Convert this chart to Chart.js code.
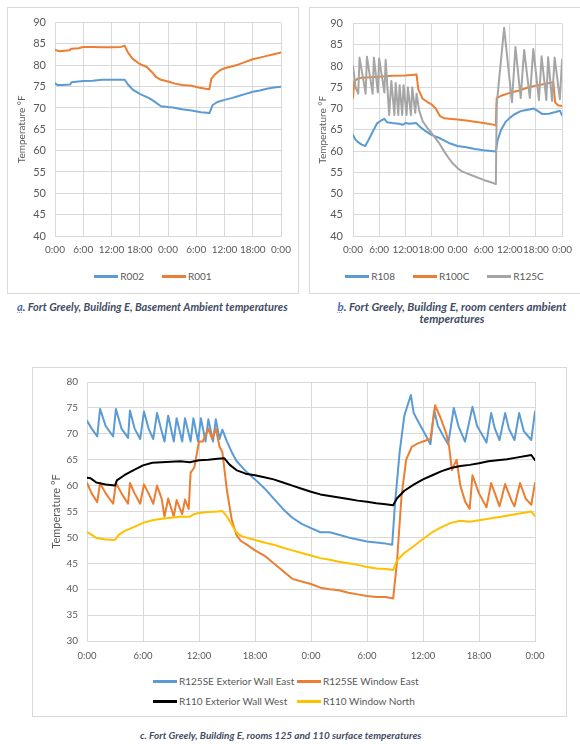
<!DOCTYPE html>
<html>
<head>
<meta charset="utf-8">
<script src="https://cdn.jsdelivr.net/npm/chart.js@4.4.1/dist/chart.umd.min.js"></script>
<style>
  body { margin: 0; width: 580px; height: 744px; background: #fff; position: relative; overflow: hidden; font-family: Lato, "Open Sans", sans-serif; }
  .frame { position: absolute; border: 1px solid #d9d9d9; box-sizing: border-box; }
  canvas { position: absolute; }
  .legend { position: absolute; font-size: 10px; color: #595959; white-space: nowrap; }
  .legend.row { display: flex; justify-content: center; gap: 18px; }
  .item { display: flex; align-items: center; }
  .legend.grid .item { position: absolute; }
  .swatch { display: inline-block; width: 24px; height: 3px; margin-right: 2px; }
  .caption { position: absolute; font-weight: bold; font-style: italic; color: #3f4d66; font-size: 11px; line-height: 12px; white-space: nowrap; }
  .caption .tag { color: #4a68b8; text-decoration: underline dotted #8fa0d6; }
</style>
</head>
<body>
<div class="frame" style="left:7px;top:7px;width:292px;height:287px"></div>
<div class="frame" style="left:309px;top:7px;width:290px;height:287px"></div>
<div class="frame" style="left:32px;top:367px;width:535px;height:350px"></div>

<canvas id="chartA" width="292" height="258" style="left:7px;top:7px"></canvas>
<canvas id="chartB" width="271" height="258" style="left:309px;top:7px"></canvas>
<canvas id="chartC" width="535" height="300" style="left:32px;top:367px"></canvas>

<div id="legendA" class="legend row" style="left:7px;top:270px;width:292px"></div>
<div id="legendB" class="legend row" style="left:309px;top:270px;width:271px"></div>
<div id="legendC" class="legend grid" style="left:0;top:675px;width:580px;height:40px"></div>

<div class="caption" style="left:17px;top:301px"><span class="tag">a</span>. Fort Greely, Building E, Basement Ambient temperatures</div>
<div class="caption" style="left:309px;top:301px;width:286px;text-align:center;font-size:11.5px"><span class="tag">b</span>. Fort Greely, Building E, room centers ambient<br>temperatures</div>
<div class="caption" style="left:140px;top:729px;font-size:10px">c. Fort Greely, Building E, rooms 125 and 110 surface temperatures</div>

<script>
// Time axis: hours since the first midnight, labelled every 6 hours
const hourTicks = [0, 6, 12, 18, 24, 30, 36, 42, 48];
const timeLabels = ['0:00', '6:00', '12:00', '18:00', '0:00', '6:00', '12:00', '18:00', '0:00'];

// --- a. Basement ambient temperatures (°F)
const r002Hours = [0, 0.5, 1.5, 3.2, 3.5, 5, 6, 8, 10, 12, 14.8, 15.5, 16.5, 18, 20, 21, 22.5, 24, 25, 27, 29, 31, 32.8, 33.5, 34.5, 36, 37.5, 39, 40.5, 42, 43.5, 45, 46.5, 48];
const r002Temps = [75.8, 75.4, 75.4, 75.5, 76.0, 76.2, 76.3, 76.4, 76.6, 76.6, 76.6, 75.5, 74.3, 73.3, 72.3, 71.6, 70.4, 70.2, 70.1, 69.7, 69.4, 69.0, 68.8, 70.7, 71.4, 71.9, 72.3, 72.8, 73.3, 73.8, 74.1, 74.5, 74.8, 75.0];
const r001Hours = [0, 1, 2, 3, 3.5, 5, 6, 8, 10, 12, 14, 14.8, 15.5, 16.5, 18, 19.5, 20.5, 21.5, 22.5, 24, 25.5, 27, 29, 30.5, 32, 32.8, 33.2, 34, 35, 36, 37.5, 39, 40.5, 42, 43.5, 45, 46.5, 48];
const r001Temps = [83.6, 83.3, 83.4, 83.5, 83.9, 84.0, 84.3, 84.3, 84.2, 84.2, 84.3, 84.6, 83.0, 81.5, 80.3, 79.6, 78.5, 77.2, 76.6, 76.2, 75.7, 75.4, 75.2, 74.8, 74.5, 74.4, 76.8, 77.9, 78.8, 79.3, 79.7, 80.2, 80.8, 81.4, 81.8, 82.2, 82.6, 83.0];

// --- b. Room centre ambient temperatures (°F)
const r108Hours = [0, 0.5, 1, 2, 2.8, 3.5, 4.5, 5.5, 6.5, 7.2, 7.8, 9, 10.5, 11.5, 12, 13, 14.5, 15.5, 16.5, 18, 20, 22, 24, 26, 28, 30, 32.8, 33.2, 34, 35, 36, 37, 38.5, 39.5, 40.5, 41.5, 42.5, 43.5, 45, 46.5, 47.5, 48];
const r108Temps = [63.8, 62.8, 62.2, 61.5, 61.2, 62.5, 64.5, 66.5, 67.2, 67.6, 66.8, 66.6, 66.4, 66.2, 66.6, 66.4, 66.6, 65.6, 64.8, 63.8, 63.0, 61.9, 61.2, 60.9, 60.5, 60.2, 59.9, 62.5, 65.0, 66.8, 67.8, 68.6, 69.4, 69.6, 69.8, 70.0, 69.4, 68.7, 68.8, 69.2, 69.5, 68.4];
const r100cHours = [0, 0.3, 1.5, 3, 6, 9, 12, 14.6, 15.0, 16, 17, 18, 19, 20, 21, 22, 24, 26, 28, 30, 32.8, 33.0, 34, 36, 38, 40, 42, 44, 46, 46.4, 47, 48];
const r100cTemps = [72.5, 76.5, 77.2, 77.3, 77.5, 77.7, 77.8, 78.0, 74.5, 72.3, 71.6, 71.0, 70.0, 68.2, 67.7, 67.6, 67.4, 67.2, 66.9, 66.6, 66.1, 72.5, 73.0, 73.7, 74.2, 74.9, 75.4, 75.8, 76.2, 71.5, 70.8, 70.6];
const r125cHours = [0, 0.6, 1.2, 1.5, 2.9, 3.2, 4.5, 4.8, 5.7, 6.0, 7.2, 7.5, 8.3, 8.8, 9.5, 9.8, 10.4, 10.7, 11.3, 11.6, 12.3, 12.6, 13.3, 13.6, 14.3, 14.6, 15.2, 16, 17, 18, 19.7, 21, 22, 23, 24, 25, 26, 28, 30, 31.5, 32.8, 33.0, 34.7, 36.5, 37.3, 38.5, 39.3, 40.6, 41.4, 42.7, 43.3, 44.4, 44.8, 45.7, 46.3, 47.5, 48];
const r125cTemps = [80.0, 75.0, 73.5, 82.0, 73.5, 82.2, 73.5, 82.0, 73.8, 81.8, 73.8, 81.5, 68.5, 76.5, 68.5, 76.0, 68.5, 75.5, 68.5, 75.5, 68.5, 75.0, 68.5, 75.0, 69.0, 73.5, 69.5, 67.0, 65.5, 64.3, 62.0, 59.8, 58.3, 57.0, 56.0, 55.2, 54.8, 54.0, 53.2, 52.7, 52.2, 71.0, 89.0, 71.5, 84.5, 72.5, 83.8, 72.5, 84.0, 72.0, 82.3, 72.0, 82.1, 71.8, 82.0, 72.2, 81.5];

// --- c. Rooms 125 and 110 surface temperatures (°F)
const wallEastHours = [0, 0.5, 1.1, 1.4, 2.0, 2.8, 3.1, 3.7, 4.4, 4.6, 5.1, 5.7, 6.1, 6.6, 7.1, 7.5, 8.0, 8.3, 8.7, 9.3, 9.6, 10.2, 10.5, 11.1, 11.4, 11.9, 12.2, 12.7, 13.0, 13.5, 13.8, 14.2, 14.5, 15, 15.5, 16, 17, 18, 19, 20, 21, 22, 23, 24, 25, 26, 27, 28, 29, 30, 31, 32, 32.7, 33.0, 33.5, 34.0, 34.7, 35.0, 35.6, 36.2, 36.8, 37.2, 37.6, 38.2, 38.7, 39.3, 39.8, 40.5, 41.3, 41.8, 42.8, 43.3, 43.7, 44.2, 44.8, 45.2, 45.8, 46.3, 46.8, 47.6, 48];
const wallEastTemps = [72.5, 71.0, 69.5, 74.8, 71.5, 69.5, 74.8, 71.0, 69.2, 74.5, 71.0, 69.0, 74.3, 71.0, 69.0, 74.0, 70.5, 68.5, 73.5, 68.5, 73.0, 68.5, 73.0, 68.5, 73.0, 68.5, 73.0, 68.5, 72.8, 68.5, 72.8, 69.0, 70.8, 68.5, 66.5, 64.8, 62.8, 61.2, 59.5, 57.5, 55.5, 53.8, 52.6, 51.8, 51.0, 51.0, 50.5, 50.0, 49.6, 49.2, 49.0, 48.8, 48.6, 56.5, 66.5, 73.5, 77.5, 74.0, 72.0, 70.0, 68.0, 74.5, 71.5, 69.5, 68.0, 75.0, 71.5, 68.5, 75.2, 71.5, 68.3, 74.0, 71.0, 68.8, 74.0, 71.0, 68.8, 74.0, 70.5, 68.8, 74.3];
const windowEastHours = [0, 0.5, 1.1, 1.4, 2.0, 2.8, 3.1, 3.7, 4.4, 4.6, 5.1, 5.7, 6.1, 6.6, 7.1, 7.5, 8.0, 8.3, 8.7, 9.3, 9.6, 10.2, 10.5, 10.9, 11.1, 11.5, 12.0, 12.4, 13.0, 13.4, 13.8, 14.2, 14.5, 15.0, 15.5, 16.0, 16.5, 17.2, 18, 19, 20, 21, 22, 23, 24, 25, 26, 27, 28, 29, 30, 31, 32, 32.8, 33.2, 33.7, 34.2, 34.8, 35.5, 36.3, 36.8, 37.3, 37.9, 38.5, 38.8, 39.1, 39.6, 40.0, 40.5, 41.0, 41.3, 42.0, 42.8, 43.3, 43.8, 44.2, 44.8, 45.5, 45.8, 46.4, 47.0, 47.6, 48];
const windowEastTemps = [60.5, 58.5, 56.8, 60.5, 58.5, 56.5, 60.5, 58.5, 56.5, 60.5, 58.5, 56.5, 60.2, 58.5, 56.5, 60.0, 57.5, 54.0, 57.5, 54.0, 57.2, 54.5, 57.3, 55.5, 62.5, 63.5, 68.5, 68.5, 71.0, 69.0, 71.0, 67.5, 66.5, 59.0, 53.5, 50.5, 49.3, 48.5, 47.5, 46.5, 45.0, 43.5, 42.0, 41.5, 41.0, 40.3, 40.0, 39.8, 39.3, 39.0, 38.7, 38.5, 38.5, 38.2, 45.0, 58.0, 65.0, 67.5, 68.2, 68.7, 69.0, 75.5, 73.0, 70.0, 67.5, 63.0, 65.0, 60.0, 57.0, 55.5, 62.0, 58.5, 55.8, 60.5, 58.0, 56.0, 60.3, 57.0, 56.0, 60.5, 57.5, 56.3, 60.5];
const wallWestHours = [0, 0.4, 1, 2, 3, 3.2, 4, 5, 6, 7, 8, 9, 10, 11, 12, 13, 14, 14.7, 15.3, 16, 17, 18, 19, 20, 21, 22, 23, 24, 25, 26, 27, 28, 29, 30, 31, 32, 32.8, 33.2, 34, 35, 36, 37, 38, 39, 40, 41, 42, 43, 44, 45, 46, 47, 47.6, 48];
const wallWestTemps = [61.5, 61.4, 60.6, 60.2, 60.0, 61.0, 62.0, 63.0, 63.9, 64.4, 64.5, 64.6, 64.7, 64.5, 64.9, 65.0, 65.2, 65.3, 64.0, 63.0, 62.3, 62.0, 61.6, 61.2, 60.6, 60.0, 59.4, 58.8, 58.3, 58.0, 57.7, 57.4, 57.1, 56.9, 56.6, 56.4, 56.2, 57.5, 59.0, 60.2, 61.2, 62.0, 62.8, 63.4, 63.8, 64.0, 64.3, 64.7, 64.9, 65.1, 65.4, 65.7, 65.9, 64.9];
const windowNorthHours = [0, 0.5, 1, 2, 3, 3.4, 4, 5, 6, 7, 8, 9, 10, 11, 11.5, 12, 13, 14, 14.5, 15, 15.5, 16, 16.5, 17, 18, 19, 20, 21, 22, 23, 24, 25, 26, 27, 28, 29, 30, 31, 32, 32.8, 33.2, 34, 35, 36, 37, 38, 39, 40, 41, 42, 43, 44, 45, 46, 47, 47.6, 48];
const windowNorthTemps = [51.0, 50.5, 49.9, 49.6, 49.5, 50.5, 51.2, 52.0, 52.8, 53.3, 53.6, 53.8, 54.0, 54.0, 54.5, 54.7, 54.9, 55.0, 55.1, 54.0, 52.5, 51.0, 50.3, 50.0, 49.5, 49.0, 48.6, 48.0, 47.5, 47.0, 46.5, 46.0, 45.7, 45.3, 45.0, 44.7, 44.3, 44.0, 43.9, 43.7, 45.5, 47.0, 48.3, 49.7, 51.0, 52.0, 52.8, 53.2, 53.0, 53.3, 53.6, 53.9, 54.2, 54.5, 54.8, 55.0, 54.1];

const BLUE = '#5b9bd5', ORANGE = '#ed7d31', GRAY = '#a5a5a5', BLACK = '#000000', GOLD = '#ffc000';
const TEXT = '#595959', GRID = '#d9d9d9', FONT = 'Lato';

function points(hours, temps) {
  return hours.map((h, i) => ({ x: h, y: temps[i] }));
}

function line(label, hours, temps, color, order) {
  return {
    label, data: points(hours, temps), borderColor: color, backgroundColor: color,
    borderWidth: 2, pointRadius: 0, tension: 0, fill: false, order,
    borderJoinStyle: 'round', borderCapStyle: 'round'
  };
}

function buildChart(id, datasets, o) {
  return new Chart(document.getElementById(id), {
    type: 'line',
    data: { datasets },
    options: {
      responsive: false, animation: false,
      layout: { padding: o.padding },
      plugins: { legend: { display: false }, tooltip: { enabled: false } },
      scales: {
        x: {
          type: 'linear', min: 0, max: 48,
          afterBuildTicks: s => { s.ticks = hourTicks.map(v => ({ value: v })); },
          afterFit: s => { s.height = o.xHeight; },
          ticks: { autoSkip: false, maxRotation: 0, padding: o.xPad, color: TEXT,
                   font: { family: FONT, size: o.xTickSize }, callback: (v, i) => timeLabels[i] },
          grid: { color: GRID, drawTicks: false },
          border: { color: GRID }
        },
        y: {
          min: o.yMin, max: o.yMax,
          afterFit: s => { s.width = o.yWidth; },
          ticks: { stepSize: 5, padding: o.yPad, color: TEXT, font: { family: FONT, size: o.yTickSize } },
          grid: { color: GRID, drawTicks: false },
          border: { color: GRID },
          title: { display: true, text: 'Temperature °F', color: TEXT,
                   font: { family: FONT, size: o.titleSize }, padding: { top: o.titlePad, bottom: 0 } }
        }
      }
    }
  });
}

function legendRow(el, datasets, labels) {
  labels.forEach(name => {
    const d = datasets.find(ds => ds.label === name);
    const item = document.createElement('div');
    item.className = 'item';
    item.innerHTML = '<span class="swatch" style="background:' + d.borderColor + '"></span>' + d.label;
    el.appendChild(item);
  });
}

const dsA = [
  line('R002', r002Hours, r002Temps, BLUE, 1),
  line('R001', r001Hours, r001Temps, ORANGE, 0)
];
const dsB = [
  line('R108', r108Hours, r108Temps, BLUE, 2),
  line('R100C', r100cHours, r100cTemps, ORANGE, 1),
  line('R125C', r125cHours, r125cTemps, GRAY, 0)
];
const dsC = [
  line('R125SE Exterior Wall East', wallEastHours, wallEastTemps, BLUE, 3),
  line('R125SE Window East', windowEastHours, windowEastTemps, ORANGE, 2),
  line('R110 Exterior Wall West', wallWestHours, wallWestTemps, BLACK, 1),
  line('R110 Window North', windowNorthHours, windowNorthTemps, GOLD, 0)
];

buildChart('chartA', dsA, { padding: { left: 0, top: 13, right: 18, bottom: 7 }, xHeight: 22, yWidth: 48,
  xPad: 8, yPad: 9, xTickSize: 10, yTickSize: 11, titleSize: 10, titlePad: 9, yMin: 40, yMax: 90 });
buildChart('chartB', dsB, { padding: { left: 0, top: 13, right: 15, bottom: 7 }, xHeight: 22, yWidth: 44,
  xPad: 8, yPad: 10, xTickSize: 10, yTickSize: 11, titleSize: 10, titlePad: 8, yMin: 40, yMax: 90 });
buildChart('chartC', dsC, { padding: { left: 0, top: 13, right: 32, bottom: 4 }, xHeight: 22, yWidth: 55,
  xPad: 9, yPad: 9, xTickSize: 9.5, yTickSize: 10, titleSize: 11, titlePad: 18, yMin: 30, yMax: 80 });

legendRow(document.getElementById('legendA'), dsA, ['R002', 'R001']);
legendRow(document.getElementById('legendB'), dsB, ['R108', 'R100C', 'R125C']);

// two-column legend for the surface temperatures
const legendC = document.getElementById('legendC');
const cols = [153, 297];
dsC.forEach((d, i) => {
  const item = document.createElement('div');
  item.className = 'item';
  item.style.left = cols[i % 2] + 'px';
  item.style.top = (Math.floor(i / 2) * 20) + 'px';
  item.innerHTML = '<span class="swatch" style="background:' + d.borderColor + '"></span>' + d.label;
  legendC.appendChild(item);
});
</script>
</body>
</html>
